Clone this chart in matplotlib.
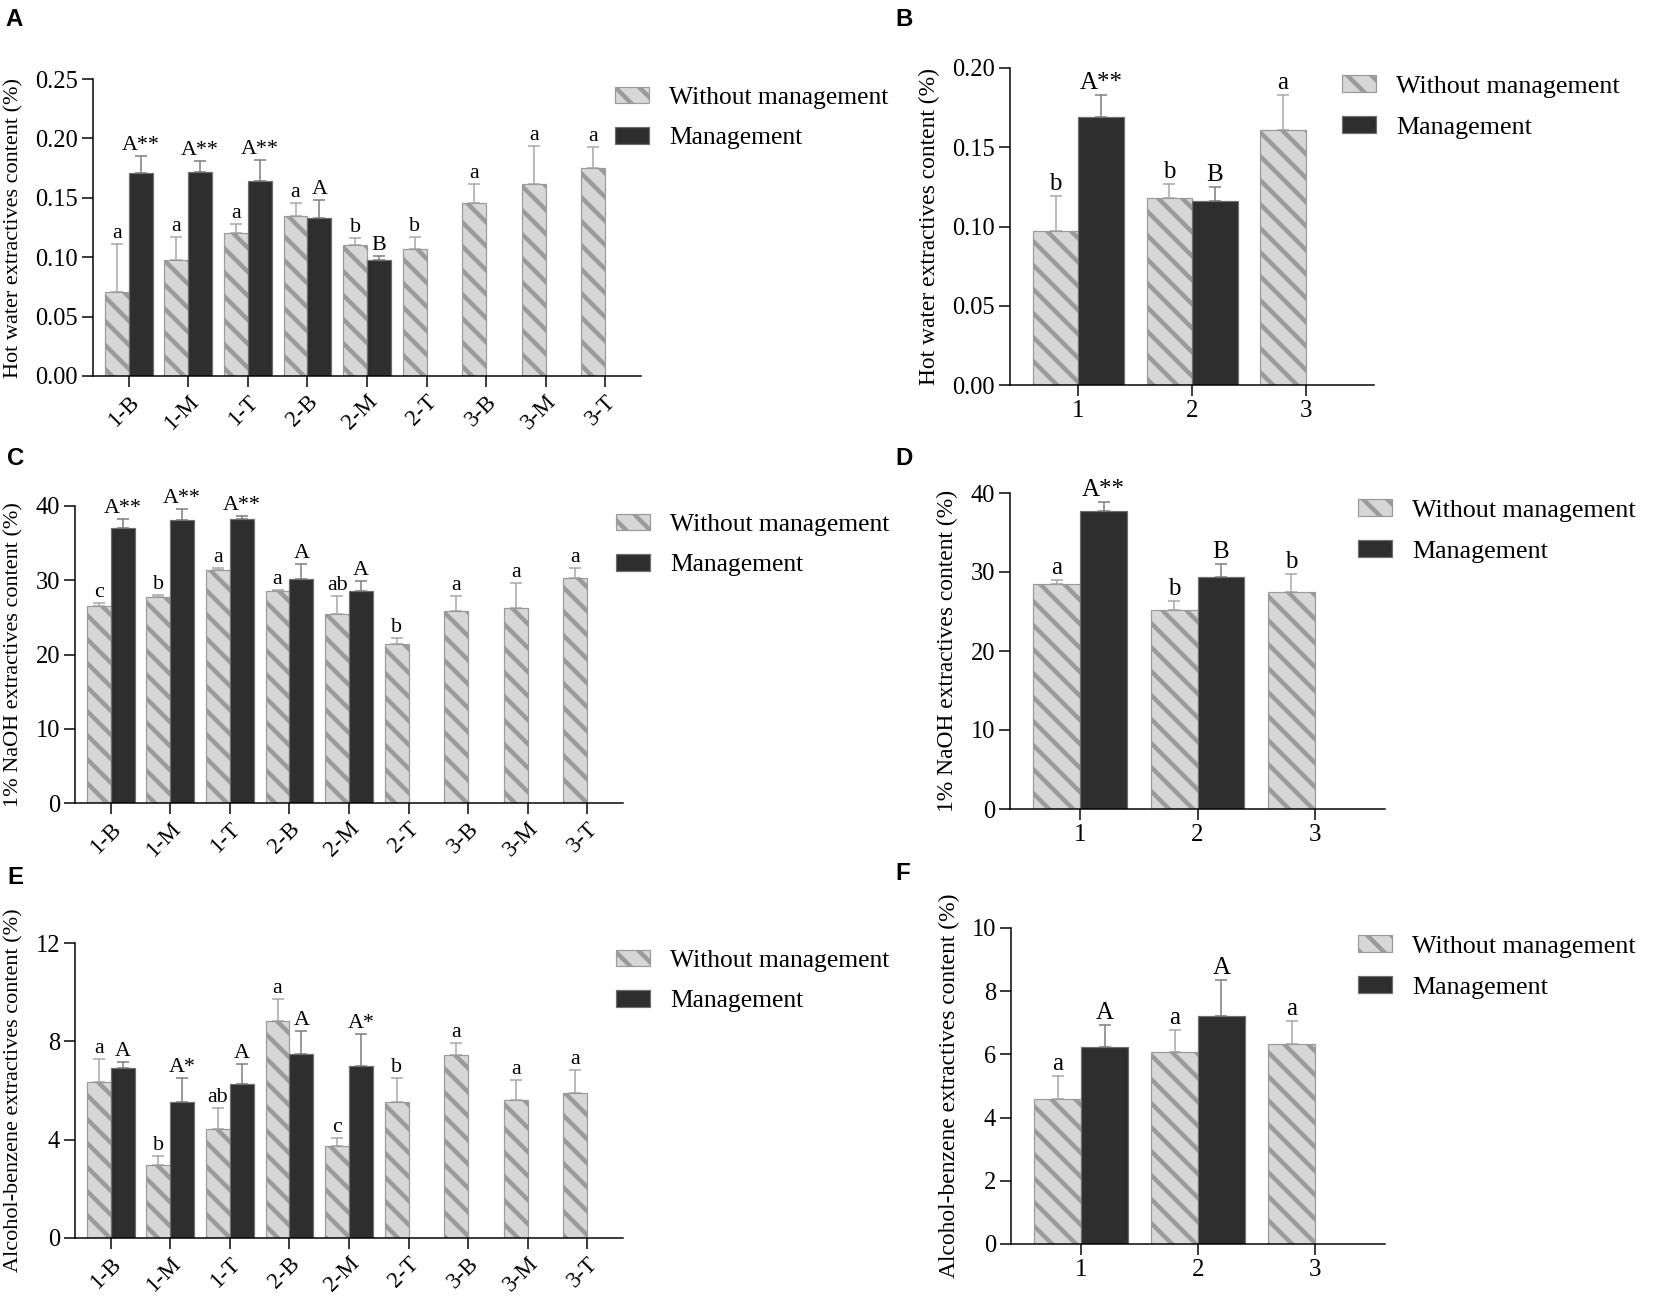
import matplotlib
matplotlib.use('Agg')
import matplotlib.pyplot as plt
from matplotlib.patches import Patch
from matplotlib.ticker import FormatStrFormatter
import numpy as np

plt.rcParams['font.family'] = ['Liberation Serif', 'DejaVu Serif']
plt.rcParams['hatch.linewidth'] = 4.4

W, H = 1654, 1303
DPI = 72

# categories
positions = ['1-B', '1-M', '1-T', '2-B', '2-M', '2-T', '3-B', '3-M', '3-T']
trees = ['1', '2', '3']

# A: hot water extractives by position
hw_pos_wm = [0.071, 0.098, 0.120, 0.135, 0.110, 0.107, 0.146, 0.162, 0.175]
hw_pos_wm_sd = [0.040, 0.019, 0.008, 0.011, 0.006, 0.010, 0.016, 0.032, 0.018]
hw_pos_m = [0.171, 0.172, 0.164, 0.133, 0.098]
hw_pos_m_sd = [0.014, 0.009, 0.018, 0.015, 0.003]
hw_pos_wm_lab = ['a', 'a', 'a', 'a', 'b', 'b', 'a', 'a', 'a']
hw_pos_m_lab = ['A**', 'A**', 'A**', 'A', 'B']

# B: hot water extractives by tree
hw_tree_wm = [0.097, 0.118, 0.161]
hw_tree_wm_sd = [0.022, 0.009, 0.022]
hw_tree_m = [0.169, 0.116]
hw_tree_m_sd = [0.014, 0.009]
hw_tree_wm_lab = ['b', 'b', 'a']
hw_tree_m_lab = ['A**', 'B']

# C: 1% NaOH extractives by position
naoh_pos_wm = [26.5, 27.8, 31.4, 28.6, 25.4, 21.4, 25.9, 26.3, 30.3]
naoh_pos_wm_sd = [0.5, 0.2, 0.3, 0.1, 2.5, 0.8, 2.0, 3.3, 1.3]
naoh_pos_m = [37.1, 38.1, 38.3, 30.2, 28.6]
naoh_pos_m_sd = [1.2, 1.5, 0.4, 2.0, 1.3]
naoh_pos_wm_lab = ['c', 'b', 'a', 'a', 'ab', 'b', 'a', 'a', 'a']
naoh_pos_m_lab = ['A**', 'A**', 'A**', 'A', 'A']

# D: 1% NaOH extractives by tree
naoh_tree_wm = [28.5, 25.2, 27.5]
naoh_tree_wm_sd = [0.45, 1.1, 2.2]
naoh_tree_m = [37.7, 29.4]
naoh_tree_m_sd = [1.2, 1.6]
naoh_tree_wm_lab = ['a', 'b', 'b']
naoh_tree_m_lab = ['A**', 'B']

# E: alcohol-benzene extractives by position
ab_pos_wm = [6.33, 2.96, 4.45, 8.83, 3.76, 5.53, 7.43, 5.60, 5.91]
ab_pos_wm_sd = [0.96, 0.39, 0.84, 0.91, 0.32, 0.98, 0.50, 0.81, 0.91]
ab_pos_m = [6.93, 5.53, 6.25, 7.48, 6.98]
ab_pos_m_sd = [0.23, 0.98, 0.84, 0.94, 1.33]
ab_pos_wm_lab = ['a', 'b', 'ab', 'a', 'c', 'b', 'a', 'a', 'a']
ab_pos_m_lab = ['A', 'A*', 'A', 'A', 'A*']

# F: alcohol-benzene extractives by tree
ab_tree_wm = [4.58, 6.09, 6.33]
ab_tree_wm_sd = [0.74, 0.69, 0.72]
ab_tree_m = [6.24, 7.22]
ab_tree_m_sd = [0.68, 1.14]
ab_tree_wm_lab = ['a', 'a', 'a']
ab_tree_m_lab = ['A', 'A']

WM_FACE = '#d7d7d7'
WM_EDGE = '#9a9a9a'
M_FACE = '#2e2e2e'
M_EDGE = '#6e6e6e'


def px_axes(fig, left, right, top, bottom):
    return fig.add_axes([left / W, 1 - bottom / H, (right - left) / W, (bottom - top) / H])


def panel(ax, cats, wm, wm_sd, m, m_sd, wm_lab, m_lab, ymax, ystep, fmt,
          ylabel, rotate, ylab_fs, ann_fs):
    x = np.arange(len(cats))
    bw = 0.4
    xw = x - bw / 2
    xm = x[:len(m)] + bw / 2
    ax.bar(xw, wm, bw, color=WM_FACE, edgecolor=WM_EDGE, hatch='\\', linewidth=1.2, zorder=2)
    ax.bar(xm, m, bw, color=M_FACE, edgecolor=M_EDGE, linewidth=1.2, zorder=2)
    ax.errorbar(xw, wm, yerr=[np.zeros(len(wm)), wm_sd], fmt='none', ecolor='#a6a6a6',
                elinewidth=1.5, capsize=6, capthick=1.5, zorder=1)
    ax.errorbar(xm, m, yerr=[np.zeros(len(m)), m_sd], fmt='none', ecolor='#7a7a7a',
                elinewidth=1.5, capsize=6, capthick=1.5, zorder=1)
    for xi, v, s, t in zip(xw, wm, wm_sd, wm_lab):
        ax.annotate(t, (xi, v + s), xytext=(0, 1), textcoords='offset points',
                    ha='center', va='bottom', fontsize=ann_fs)
    for xi, v, s, t in zip(xm, m, m_sd, m_lab):
        ax.annotate(t, (xi, v + s), xytext=(0, 1), textcoords='offset points',
                    ha='center', va='bottom', fontsize=ann_fs)
    ax.set_xlim(-0.6, len(cats) - 0.4)
    ax.set_ylim(0, ymax)
    ax.set_yticks(np.arange(0, ymax + ystep / 2, ystep))
    ax.yaxis.set_major_formatter(FormatStrFormatter(fmt))
    ax.set_xticks(x)
    if rotate:
        ax.set_xticklabels(cats, rotation=45, ha='right', rotation_mode='anchor', fontsize=23)
    else:
        ax.set_xticklabels(cats, fontsize=25)
    ax.tick_params(axis='y', labelsize=24.5)
    ax.tick_params(direction='out', length=11, width=1.5, pad=4)
    for sp in ['top', 'right']:
        ax.spines[sp].set_visible(False)
    for sp in ['left', 'bottom']:
        ax.spines[sp].set_linewidth(1.5)
    ax.set_ylabel(ylabel, fontsize=ylab_fs, labelpad=12)


def legend(ax, fig, xpx, ypx, fs):
    handles = [Patch(facecolor=WM_FACE, edgecolor=WM_EDGE, hatch='\\', linewidth=1.2),
               Patch(facecolor=M_FACE, edgecolor=M_EDGE, linewidth=1.2)]
    ax.legend(handles, ['Without management', 'Management'], loc='center left',
              bbox_to_anchor=(xpx / W, 1 - ypx / H), bbox_transform=fig.transFigure,
              frameon=False, fontsize=fs, borderpad=0, borderaxespad=0,
              handlelength=34 / fs, handleheight=16 / fs, handletextpad=20 / fs,
              labelspacing=0.72)


fig = plt.figure(figsize=(W / DPI, H / DPI), dpi=DPI)

axA = px_axes(fig, 93, 641, 79, 376)
panel(axA, positions, hw_pos_wm, hw_pos_wm_sd, hw_pos_m, hw_pos_m_sd, hw_pos_wm_lab, hw_pos_m_lab,
      0.25, 0.05, '%.2f', 'Hot water extractives content (%)', True, 22.3, 22)
legend(axA, fig, 615, 118, 25.5)

axB = px_axes(fig, 1010, 1374, 68, 385)
panel(axB, trees, hw_tree_wm, hw_tree_wm_sd, hw_tree_m, hw_tree_m_sd, hw_tree_wm_lab, hw_tree_m_lab,
      0.20, 0.05, '%.2f', 'Hot water extractives content (%)', False, 23.5, 25)
legend(axB, fig, 1342, 107, 26)

axC = px_axes(fig, 75, 623, 506, 803)
panel(axC, positions, naoh_pos_wm, naoh_pos_wm_sd, naoh_pos_m, naoh_pos_m_sd, naoh_pos_wm_lab,
      naoh_pos_m_lab, 40, 10, '%d', '1% NaOH extractives content (%)', True, 22.3, 22)
legend(axC, fig, 616, 545, 25.5)

axD = px_axes(fig, 1010, 1385, 493, 809)
panel(axD, trees, naoh_tree_wm, naoh_tree_wm_sd, naoh_tree_m, naoh_tree_m_sd, naoh_tree_wm_lab,
      naoh_tree_m_lab, 40, 10, '%d', '1% NaOH extractives content (%)', False, 23.5, 25)
legend(axD, fig, 1358, 531, 26)

axE = px_axes(fig, 75, 623, 943, 1238)
panel(axE, positions, ab_pos_wm, ab_pos_wm_sd, ab_pos_m, ab_pos_m_sd, ab_pos_wm_lab, ab_pos_m_lab,
      12, 4, '%d', 'Alcohol-benzene extractives content (%)', True, 22.3, 22)
legend(axE, fig, 616, 981, 25.5)

axF = px_axes(fig, 1011, 1385, 928, 1244)
panel(axF, trees, ab_tree_wm, ab_tree_wm_sd, ab_tree_m, ab_tree_m_sd, ab_tree_wm_lab, ab_tree_m_lab,
      10, 2, '%d', 'Alcohol-benzene extractives content (%)', False, 23.5, 25)
legend(axF, fig, 1358, 967, 26)

for letter, xp, yp in [('A', 5, 8), ('B', 895, 8), ('C', 7, 447),
                       ('D', 895, 447), ('E', 7, 866), ('F', 895, 862)]:
    fig.text(xp / W, 1 - yp / H, letter, fontsize=24, fontweight='bold',
             family=['Liberation Sans', 'DejaVu Sans'], ha='left', va='top')

fig.savefig('out.png', dpi=DPI)
